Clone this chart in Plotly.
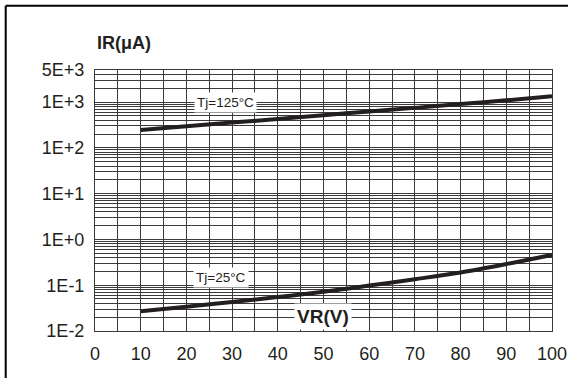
import plotly.graph_objects as go
import math

# ---- data ----
vr_125 = [10, 20, 30, 40, 50, 60, 70, 80, 90, 100]
ir_125 = [245, 295, 355, 425, 515, 620, 745, 900, 1090, 1330]

vr_25 = [10, 20, 30, 40, 50, 60, 70, 80, 90, 100]
ir_25 = [0.027, 0.034, 0.043, 0.055, 0.072, 0.098, 0.135, 0.19, 0.29, 0.46]

x_tick_labels = ["0", "10", "20", "30", "40", "50", "60", "70", "80", "90", "100"]
y_tick_labels = {0.01: "1E-2", 0.1: "1E-1", 1: "1E+0", 10: "1E+1", 100: "1E+2", 1000: "1E+3", 5000: "5E+3"}

FONT = "Liberation Sans, Arial, sans-serif"
INK = "#231f20"
GRID = "#3a3a3a"

W, H = 568, 378
ML, MR, MT, MB = 95, 16, 70, 47
PW, PH = W - ML - MR, H - MT - MB

# grid values
x_vals = list(range(0, 101, 5))
x_text = []
for v in x_vals:
    x_text.append(x_tick_labels[v // 10] if v % 10 == 0 else "")

y_vals = []
for d in range(-2, 3):
    for m in range(1, 10):
        y_vals.append(m * 10 ** d)
y_vals += [1000, 2000, 3000, 4000, 5000]
y_text = []
for v in y_vals:
    key = None
    for k in y_tick_labels:
        if abs(v - k) / k < 1e-9:
            key = k
    y_text.append(y_tick_labels[key] if key is not None else "")

fig = go.Figure()
fig.add_trace(go.Scatter(x=vr_125, y=ir_125, mode="lines",
                         line=dict(color=INK, width=4, shape="spline"),
                         showlegend=False, hoverinfo="skip"))
fig.add_trace(go.Scatter(x=vr_25, y=ir_25, mode="lines",
                         line=dict(color=INK, width=4, shape="spline"),
                         showlegend=False, hoverinfo="skip"))

def px_to_paper_x(px):
    return (px - ML) / PW

def px_to_paper_y(py):
    return (H - MB - py) / PH

# outer frame (top and left edges visible)
fx = px_to_paper_x(5.7)
fy = px_to_paper_y(5.7)
fig.add_shape(type="line", xref="paper", yref="paper", x0=fx, y0=fy, x1=px_to_paper_x(575), y1=fy,
              line=dict(color="black", width=2))
fig.add_shape(type="line", xref="paper", yref="paper", x0=fx, y0=fy, x1=fx, y1=px_to_paper_y(385),
              line=dict(color="black", width=2))

annotations = [
    dict(text="Tj=125°C", x=28.5, y=math.log10(1000) - 0.02, xref="x", yref="y",
         xanchor="center", yanchor="middle",
         font=dict(size=13.5, color=INK, family=FONT), bgcolor="white", borderpad=2, showarrow=False),
    dict(text="Tj=25°C", x=27.5, y=math.log10(0.1) + 0.17, xref="x", yref="y",
         xanchor="center", yanchor="middle",
         font=dict(size=13.5, color=INK, family=FONT), bgcolor="white", borderpad=2, showarrow=False),
    dict(text="<b>VR(V)</b>", x=49.8, y=math.log10(0.01) + 0.31, xref="x", yref="y",
         xanchor="center", yanchor="middle",
         font=dict(size=19, color=INK, family=FONT), bgcolor="white", borderpad=2, showarrow=False),
    dict(text="<b>IR(μA)</b>", x=px_to_paper_x(124), y=px_to_paper_y(43), xref="paper", yref="paper",
         xanchor="center", yanchor="middle",
         font=dict(size=18, color=INK, family=FONT), showarrow=False),
]

fig.update_layout(
    width=W, height=H,
    margin=dict(l=ML, r=MR, t=MT, b=MB, pad=0, autoexpand=False),
    paper_bgcolor="white", plot_bgcolor="white",
    font=dict(family=FONT, color=INK),
    annotations=annotations,
    xaxis=dict(range=[0, 100], tickvals=x_vals, ticktext=x_text, automargin=False,
               showgrid=True, gridcolor=GRID, gridwidth=1,
               showline=True, linecolor=GRID, linewidth=1, mirror=True,
               ticks="", zeroline=False, ticklabelstandoff=6,
               tickfont=dict(size=18, color=INK, family=FONT)),
    yaxis=dict(type="log", range=[-2, math.log10(5000)], tickvals=y_vals, ticktext=y_text, automargin=False,
               showgrid=True, gridcolor=GRID, gridwidth=1,
               showline=True, linecolor=GRID, linewidth=1, mirror=True,
               ticks="", zeroline=False, ticklabelstandoff=6,
               tickfont=dict(size=18, color=INK, family=FONT)),
)

fig.write_html("out.html")
